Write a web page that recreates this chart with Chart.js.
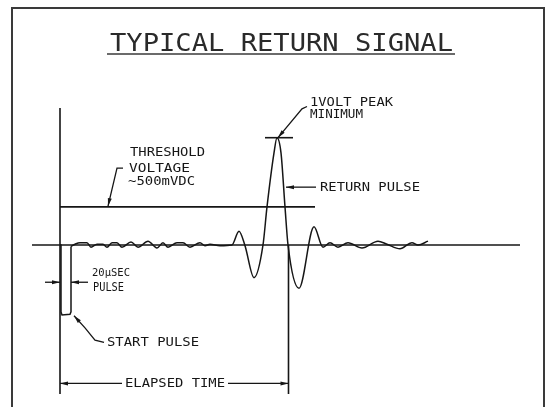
<!DOCTYPE html>
<html>
<head>
<meta charset="utf-8">
<script src="https://cdn.jsdelivr.net/npm/chart.js@4/dist/chart.umd.min.js"></script>
<style>
  html, body { margin: 0; padding: 0; background: #fff; }
  #wrap { width: 549px; height: 407px; }
</style>
</head>
<body>
<div id="wrap"><canvas id="chart1" width="549" height="407"></canvas></div>
<script>
// time in microseconds (0 = start of the start pulse), amplitude in volts
const startPulseT = [0, 2, 2, 4, 20, 22, 22];
const startPulseV = [0, 0, -0.88, -0.92, -0.91, -0.88, -0.02];

const returnT = [22, 30, 40, 54, 62, 74, 86, 94, 104, 114,
                 124, 142, 156, 176, 194, 206, 216, 234, 246, 260,
                 280, 290, 300, 320, 344, 358, 370, 388, 406, 414,
                 428, 434, 442, 450, 456, 478, 508, 526, 540, 556,
                 576, 604, 636, 654, 680, 704, 716, 736];
const returnV = [-0.02, 0.01, 0.03, 0.03, -0.03, 0.01, 0.01, -0.03, 0.03, 0.03,
                 -0.03, 0.04, -0.03, 0.05, -0.04, 0.03, -0.03, 0.03, 0.03, -0.03,
                 0.03, -0.01, 0.01, -0.01, 0, 0.18, -0.01, -0.43, 0, 0.5,
                 1.21, 1.41, 1.21, 0.5, 0, -0.57, 0.24, -0.03, 0.03, -0.03,
                 0.03, -0.04, 0.05, 0.01, -0.05, 0.03, 0, 0.05];

const baselineT = [-56, 920];
const axisV = [1.80, -1.96];
const thresholdV = 0.5;
const thresholdT = [0, 510];
const peakV = 1.41;
const peakTickT = [410, 466];
const elapsedT = 457;
const pulseWidthUs = 20;

const titleText = "TYPICAL RETURN SIGNAL";

const pts = (xs, ys) => xs.map((x, i) => ({x: x, y: ys[i]}));
const ink = '#161616';

function fitText(c, str, x, y, w) {
    const m = c.measureText(str).width;
    c.save();
    c.translate(x, y);
    c.scale(w / m, 1);
    c.fillText(str, 0, 0);
    c.restore();
}

function arrowLine(c, path) {
    c.beginPath();
    c.moveTo(path[0][0], path[0][1]);
    for (let i = 1; i < path.length; i++) c.lineTo(path[i][0], path[i][1]);
    c.stroke();
    const [x1, y1] = path[path.length - 2];
    const [x2, y2] = path[path.length - 1];
    const a = Math.atan2(y2 - y1, x2 - x1);
    c.save();
    c.translate(x2, y2);
    c.rotate(a);
    c.beginPath();
    c.moveTo(0, 0);
    c.lineTo(-8, -2);
    c.lineTo(-8, 2);
    c.closePath();
    c.fill();
    c.restore();
}

const drawing = {
    id: 'drawing',
    beforeDraw(chart) {
        const c = chart.ctx;
        c.save();
        c.fillStyle = '#fff';
        c.fillRect(0, 0, chart.width, chart.height);
        c.strokeStyle = '#3a3a3a';
        c.lineWidth = 2;
        c.strokeRect(12, 8, 532, 420);
        c.fillStyle = '#2a2a2a';
        c.font = '25px "DejaVu Sans Mono"';
        c.textBaseline = 'alphabetic';
        fitText(c, titleText, 110, 51, 343);
        c.lineWidth = 1.6;
        c.beginPath();
        c.moveTo(107, 54);
        c.lineTo(455, 54);
        c.stroke();
        c.restore();
    },
    afterDatasetsDraw(chart) {
        const c = chart.ctx;
        const sx = chart.scales.x, sy = chart.scales.y;
        const P = (t, v) => [sx.getPixelForValue(t), sy.getPixelForValue(v)];
        c.save();
        c.strokeStyle = ink;
        c.fillStyle = ink;
        c.lineWidth = 1.3;

        // leaders
        arrowLine(c, [P(126, 1.01), P(114, 1.01), P(96, thresholdV + 0.01)]);
        arrowLine(c, [P(494, 1.82), P(484, 1.79), P(436, peakV)]);
        arrowLine(c, [P(512, 0.76), P(452, 0.76)]);
        arrowLine(c, [P(88, -1.28), P(70, -1.25), P(50, -1.09), P(28, -0.93)]);

        // 20 usec dimension
        arrowLine(c, [P(-30, -0.49), P(0, -0.49)]);
        arrowLine(c, [P(pulseWidthUs + 36, -0.49), P(pulseWidthUs + 2, -0.49)]);

        // elapsed time dimension
        arrowLine(c, [P(124, -1.82), P(0, -1.82)]);
        arrowLine(c, [P(336, -1.82), P(elapsedT, -1.82)]);

        // labels
        const labels = [
            {text: "THRESHOLD", t: 140, v: 1.21, w: 75, size: 13},
            {text: "VOLTAGE", t: 138, v: 1.01, w: 61, size: 13},
            {text: "~500mVDC", t: 136, v: 0.83, w: 67, size: 13},
            {text: "1VOLT PEAK", t: 500, v: 1.87, w: 83, size: 13},
            {text: "MINIMUM", t: 500, v: 1.71, w: 53, size: 13},
            {text: "RETURN PULSE", t: 520, v: 0.76, w: 100, size: 13},
            {text: "20\u00b5SEC", t: 64, v: -0.37, w: 38, size: 11},
            {text: "PULSE", t: 66, v: -0.57, w: 31, size: 12},
            {text: "START PULSE", t: 94, v: -1.28, w: 92, size: 13},
            {text: "ELAPSED TIME", t: 130, v: -1.82, w: 100, size: 13}
        ];
        c.textBaseline = 'middle';
        labels.forEach(l => {
            c.font = l.size + 'px "DejaVu Sans Mono"';
            const [x, y] = P(l.t, l.v);
            fitText(c, l.text, x, y, l.w);
        });
        c.restore();
    }
};

const straight = {borderColor: ink, borderWidth: 1.6, tension: 0, pointRadius: 0};

const config = {
    type: 'line',
    data: {
        datasets: [
            {...straight, label: 'baseline', data: pts(baselineT, [0, 0])},
            {...straight, label: 'axis', data: pts([0, 0], axisV)},
            {...straight, label: 'threshold', data: pts(thresholdT, [thresholdV, thresholdV])},
            {...straight, label: 'peak', data: pts(peakTickT, [peakV, peakV])},
            {...straight, label: 'return mark', data: pts([elapsedT, elapsedT], [0, axisV[1]])},
            {...straight, label: 'start pulse', borderWidth: 1.5, data: pts(startPulseT, startPulseV)},
            {
                label: 'return signal',
                borderColor: ink,
                borderWidth: 1.5,
                pointRadius: 0,
                cubicInterpolationMode: 'monotone',
                data: pts(returnT, returnV)
            }
        ]
    },
    options: {
        responsive: false,
        devicePixelRatio: 1,
        animation: false,
        events: [],
        layout: { padding: 0 },
        plugins: {
            legend: { display: false },
            tooltip: { enabled: false }
        },
        scales: {
            x: { type: 'linear', min: -120, max: 978, display: false },
            y: { type: 'linear', min: -2.13, max: 3.22, display: false }
        }
    },
    plugins: [drawing]
};

const ctx1 = document.getElementById('chart1').getContext('2d');
const chart1 = new Chart(ctx1, config);
</script>
</body>
</html>
